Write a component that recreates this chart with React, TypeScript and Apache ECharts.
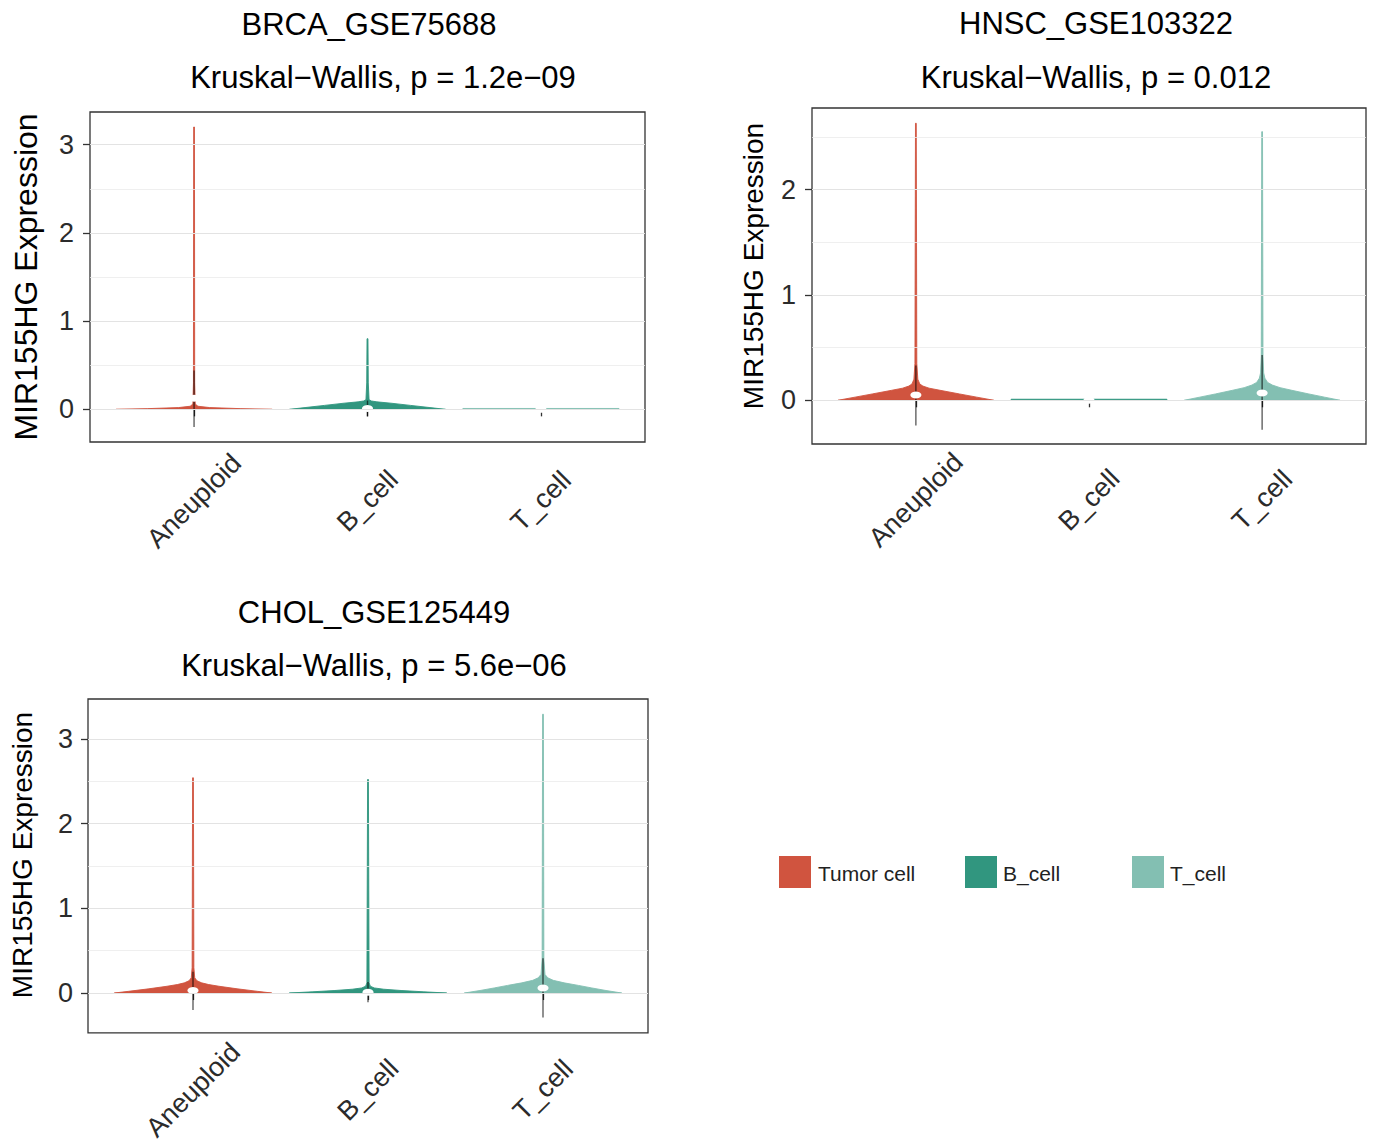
import React, { useEffect, useRef } from 'react';
import * as echarts from 'echarts';

const categories = ['Aneuploid', 'B_cell', 'T_cell'];
const legendLabels = ['Tumor cell', 'B_cell', 'T_cell'];
const groupColors = ['#D0543F', '#31967F', '#83BFB2'];
const panelTitles = ['BRCA_GSE75688', 'HNSC_GSE103322', 'CHOL_GSE125449'];
const kwPValues = ['1.2e\u221209', '0.012', '5.6e\u221206'];
const yAxisTitle = 'MIR155HG Expression';
const yTickValues = [[0, 1, 2, 3], [0, 1, 2], [0, 1, 2, 3]];
const yMinorGridValues = [0.5, 1.5, 2.5];
const yAxisRanges = [[-0.37, 3.37], [-0.415, 2.775], [-0.47, 3.47]];

// violin outlines: [expression, relative half-width]
const brcaAneuploidViolin = [[0, 1], [0.008, 0.6], [0.02, 0.2], [0.035, 0.05], [0.06, 0.015], [0.3, 0.008], [3.2, 0.005]];
const brcaBcellViolin = [[0, 1], [0.02, 0.8], [0.045, 0.55], [0.07, 0.3], [0.085, 0.12], [0.095, 0.05], [0.11, 0.02], [0.3, 0.01], [0.8, 0.006]];
const brcaTcellViolin = [[0, 1], [0.01, 1]];
const hnscAneuploidViolin = [[0, 1], [0.03, 0.78], [0.06, 0.56], [0.095, 0.31], [0.115, 0.17], [0.135, 0.09], [0.155, 0.05], [0.2, 0.025], [0.35, 0.012], [2.63, 0.005]];
const hnscBcellViolin = [[0, 1], [0.01, 1]];
const hnscTcellViolin = [[0, 1], [0.03, 0.8], [0.06, 0.6], [0.095, 0.38], [0.12, 0.23], [0.145, 0.13], [0.17, 0.07], [0.21, 0.035], [0.26, 0.02], [0.42, 0.011], [2.55, 0.005]];
const cholAneuploidViolin = [[0, 1], [0.02, 0.82], [0.05, 0.56], [0.08, 0.33], [0.1, 0.2], [0.12, 0.11], [0.145, 0.05], [0.18, 0.022], [0.3, 0.011], [2.54, 0.005]];
const cholBcellViolin = [[0, 1], [0.015, 0.7], [0.03, 0.42], [0.045, 0.2], [0.06, 0.08], [0.08, 0.03], [0.12, 0.014], [2.52, 0.005]];
const cholTcellViolin = [[0, 1], [0.03, 0.8], [0.06, 0.62], [0.09, 0.45], [0.12, 0.27], [0.15, 0.13], [0.18, 0.06], [0.22, 0.025], [0.4, 0.011], [3.29, 0.005]];

const brcaMean = [0.125, 0.01, 0];
const brcaLow = [-0.2, -0.08, 0];
const brcaHigh = [0.44, 0.1, 0];
const hnscMean = [0.05, 0, 0.07];
const hnscLow = [-0.24, 0, -0.28];
const hnscHigh = [0.33, 0, 0.43];
const cholMean = [0.03, 0.01, 0.06];
const cholLow = [-0.2, -0.11, -0.29];
const cholHigh = [0.25, 0.13, 0.41];

const panelViolins = [
  [brcaAneuploidViolin, brcaBcellViolin, brcaTcellViolin],
  [hnscAneuploidViolin, hnscBcellViolin, hnscTcellViolin],
  [cholAneuploidViolin, cholBcellViolin, cholTcellViolin],
];
const panelMeans = [brcaMean, hnscMean, cholMean];
const panelLows = [brcaLow, hnscLow, cholLow];
const panelHighs = [brcaHigh, hnscHigh, cholHigh];

const FONT = "'Liberation Sans', Arial, Helvetica, sans-serif";
const VIOLIN_HALF = 0.45;

const gridRects = [
  { left: 90, top: 112, width: 555, height: 330 },
  { left: 812, top: 108, width: 554, height: 336 },
  { left: 88, top: 699, width: 560, height: 335 },
];
const titlePos = [
  { x: 369, y: 24, sx: 383, sy: 77 },
  { x: 1096, y: 23, sx: 1096, sy: 77 },
  { x: 374, y: 612, sx: 374, sy: 665 },
];
const yTitlePos = [
  { x: 26, y: 277, size: 32 },
  { x: 753, y: 266, size: 28 },
  { x: 22, y: 855, size: 28 },
];
const yLabelMargins = [16, 16, 15];
const xLabelMargins = [59, 56, 57];

export default function App() {
  const ref = useRef<HTMLDivElement>(null);
  useEffect(() => {
    if (!ref.current) return;
    const chart = echarts.init(ref.current, undefined, { renderer: 'svg' });
    const grids: any[] = [];
    const xAxes: any[] = [];
    const yAxes: any[] = [];
    const series: any[] = [];
    const graphics: any[] = [];

    for (let p = 0; p < 3; p++) {
      grids.push({ ...gridRects[p], show: true, borderColor: '#333', borderWidth: 1.3, backgroundColor: 'transparent', containLabel: false });
      xAxes.push({
        type: 'value', gridIndex: p, min: 0.4, max: 3.6,
        axisLine: { show: false }, splitLine: { show: false },
        axisTick: { show: true, customValues: [1, 2, 3], length: 7, lineStyle: { color: '#333', width: 1.3 } },
        axisLabel: {
          customValues: [1, 2, 3], formatter: (v: number) => categories[Math.round(v) - 1],
          rotate: 45, align: 'center', verticalAlign: 'middle', margin: xLabelMargins[p],
          fontSize: 27, color: '#2b2b2b', fontFamily: FONT,
        },
      });
      yAxes.push({
        type: 'value', gridIndex: p, min: yAxisRanges[p][0], max: yAxisRanges[p][1],
        axisLine: { show: false }, splitLine: { show: false },
        axisTick: { show: true, customValues: yTickValues[p], length: 7, lineStyle: { color: '#333', width: 1.3 } },
        axisLabel: { customValues: yTickValues[p], margin: yLabelMargins[p], fontSize: 27, color: '#2b2b2b', fontFamily: FONT },
      });
      // gridlines
      series.push({
        type: 'line', xAxisIndex: p, yAxisIndex: p, data: [], z: 1, silent: true,
        markLine: {
          silent: true, symbol: 'none', label: { show: false }, animation: false,
          data: [
            ...yTickValues[p].map((v) => ({ yAxis: v, lineStyle: { color: '#E3E3E3', width: 1.1, type: 'solid' } })),
            ...yMinorGridValues.filter((v) => v < yAxisRanges[p][1]).map((v) => ({ yAxis: v, lineStyle: { color: '#EBEBEB', width: 0.8, type: 'solid' } })),
          ],
        },
      });
      const profiles = panelViolins[p];
      series.push({
        type: 'custom', xAxisIndex: p, yAxisIndex: p, z: 2, silent: true,
        data: categories.map((_, i) => [i + 1, 0]),
        renderItem: (params: any, api: any) => {
          const prof = profiles[params.dataIndex];
          const cx = api.value(0);
          const pts: number[][] = [];
          for (const [y, w] of prof) pts.push(api.coord([cx - w * VIOLIN_HALF, y]));
          for (let i = prof.length - 1; i >= 0; i--) pts.push(api.coord([cx + prof[i][1] * VIOLIN_HALF, prof[i][0]]));
          const c = groupColors[params.dataIndex];
          return { type: 'polygon', shape: { points: pts }, style: { fill: c, stroke: c, lineWidth: 0.9 } };
        },
      });
      const lows = panelLows[p];
      const highs = panelHighs[p];
      series.push({
        type: 'custom', xAxisIndex: p, yAxisIndex: p, z: 3, silent: true,
        data: categories.map((_, i) => [i + 1, lows[i], highs[i]]),
        renderItem: (params: any, api: any) => {
          const x = api.value(0), lo = api.value(1), hi = api.value(2);
          if (hi <= lo) return null;
          const a = api.coord([x, lo]);
          const b = api.coord([x, hi]);
          return { type: 'line', shape: { x1: a[0], y1: a[1], x2: b[0], y2: b[1] }, style: { stroke: 'rgba(0,0,0,0.62)', lineWidth: 1.4 } };
        },
      });
      series.push({
        type: 'scatter', xAxisIndex: p, yAxisIndex: p, z: 4, silent: true,
        symbol: 'circle', symbolSize: [11, 7],
        itemStyle: { color: '#ffffff', opacity: 1 },
        data: categories.map((_, i) => [i + 1, panelMeans[p][i]]),
      });

      graphics.push({
        type: 'text', x: titlePos[p].x, y: titlePos[p].y,
        style: { text: panelTitles[p], font: `31px ${FONT}`, fill: '#000', align: 'center', verticalAlign: 'middle' },
      });
      graphics.push({
        type: 'text', x: titlePos[p].sx, y: titlePos[p].sy,
        style: { text: `Kruskal\u2212Wallis, p = ${kwPValues[p]}`, font: `31px ${FONT}`, fill: '#000', align: 'center', verticalAlign: 'middle' },
      });
      graphics.push({
        type: 'text', x: yTitlePos[p].x, y: yTitlePos[p].y, rotation: Math.PI / 2,
        style: { text: yAxisTitle, font: `${yTitlePos[p].size}px ${FONT}`, fill: '#000', align: 'center', verticalAlign: 'middle' },
      });
    }

    const legendRectX = [779, 965, 1132];
    const legendTextX = [818, 1003, 1170];
    for (let i = 0; i < 3; i++) {
      graphics.push({ type: 'rect', shape: { x: legendRectX[i], y: 856, width: 32, height: 32 }, style: { fill: groupColors[i] } });
      graphics.push({
        type: 'text', x: legendTextX[i], y: 873,
        style: { text: legendLabels[i], font: `21px ${FONT}`, fill: '#222', align: 'left', verticalAlign: 'middle' },
      });
    }

    chart.setOption({
      animation: false,
      backgroundColor: '#ffffff',
      grid: grids,
      xAxis: xAxes,
      yAxis: yAxes,
      series,
      graphic: graphics,
    });
    return () => chart.dispose();
  }, []);
  return <div ref={ref} style={{ position: 'absolute', left: 0, top: 0, width: 1373, height: 1144 }} />;
}
